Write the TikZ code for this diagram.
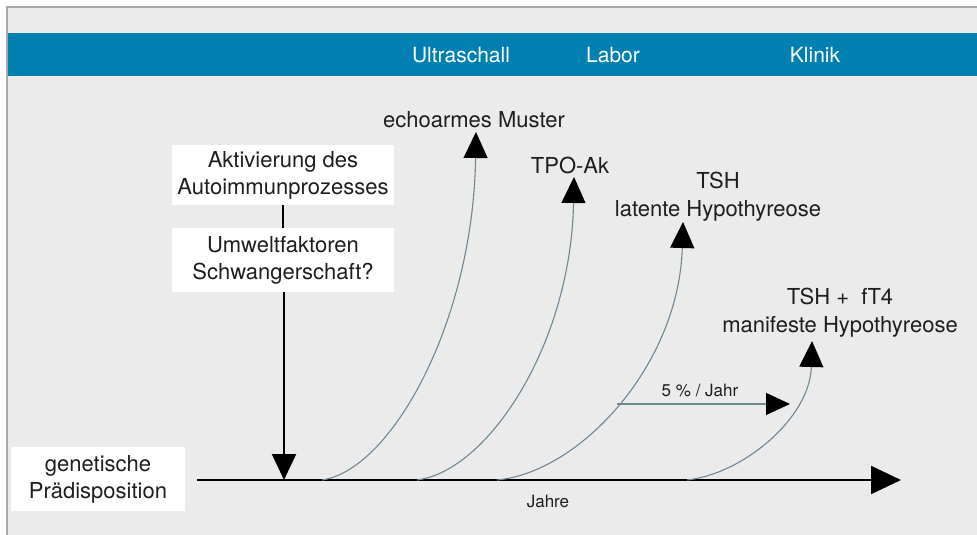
\documentclass[tikz,border=0pt]{standalone}
\usepackage{fontspec}
\setmainfont{TeX Gyre Heros}
\usetikzlibrary{arrows.meta}
\definecolor{bg}{HTML}{EBEBEB}
\definecolor{band}{HTML}{0080B0}
\definecolor{curvec}{HTML}{6F8794}
\definecolor{txt}{HTML}{1E1E1E}
\definecolor{framec}{HTML}{A8A8A8}
\tikzset{
  lbl/.style={font=\fontsize{22}{28}\selectfont, text=txt, align=center, inner sep=0pt},
  small/.style={font=\fontsize{17}{20}\selectfont, text=txt, inner sep=0pt},
  head/.style={font=\fontsize{21}{26}\selectfont, text=white, inner sep=0pt},
  wbox/.style={fill=white, align=center, text=txt, font=\fontsize{22}{27}\selectfont, inner sep=0pt},
  bigtip/.style={-{Triangle[length=26pt,width=24pt,color=black]}},
  axisline/.style={line width=2.2pt, draw=black},
  rise/.style={line width=1.1pt, draw=curvec, bigtip},
}
\begin{document}
\begin{tikzpicture}[x=1pt,y=-1pt]
\useasboundingbox (0,0) rectangle (977,535);
\fill[white] (0,0) rectangle (977,535);
\fill[bg] (7,7) rectangle (977,535);
\draw[framec, line width=1.2pt] (7,535) -- (7,7) -- (977,7);
\fill[band] (8,33) rectangle (977,76);
\node[head] (us) at (461,55) {Ultraschall};
\node[head] (lab) at (613,55) {Labor};
\node[head] (kl) at (815,55) {Klinik};

% boxes
\node[wbox, minimum width=222pt, minimum height=60pt] (akt) at (283,175) {Aktivierung des\\Autoimmunprozesses};
\node[wbox, minimum width=222pt, minimum height=64pt] (umw) at (283,260) {Umweltfaktoren\\Schwangerschaft?};
\node[wbox, minimum width=174pt, minimum height=64pt] (gen) at (98,479) {genetische\\Prädisposition};

% axis
\coordinate (axs) at (197,480);
\coordinate (axe) at (901,480);
\draw[axisline, -{Triangle[length=30pt,width=28pt]}] (axs) -- (axe);
\node[small] (jahre) at (548,501) {Jahre};

% vertical chain
\draw[axisline] (akt.south) -- (umw.north);
\coordinate (hit) at (284,480);
\draw[axisline, bigtip] (umw.south -| hit) -- (hit);

% curves
\coordinate (s1) at (322,480); \coordinate (e1) at (476,132);
\coordinate (s2) at (417,480); \coordinate (e2) at (574,177);
\coordinate (s3) at (497,480); \coordinate (e3) at (683,222);
\coordinate (s4) at (687,480); \coordinate (e4) at (812,341);
\draw[rise] (s1) .. controls (391,470) and (473,323) .. (e1);
\draw[rise] (s2) .. controls (488,471) and (571,344) .. (e2);
\draw[rise] (s3) .. controls (581,472) and (679,364) .. coordinate[pos=0.49] (m3) (e3);
\draw[rise] (s4) .. controls (743,474) and (810,418) .. (e4);

% 5% arrow
\coordinate (pend) at (790,403);
\draw[line width=1.1pt, draw=curvec, -{Triangle[length=24pt,width=22pt,color=black]}, shorten <=-1pt] (m3) -- (m3 -| pend);
\node[small] (pct) at (700,390) {5 \% / Jahr};

% labels
\node[lbl] (l1) at (474,120) {echoarmes Muster};
\node[lbl] (l2) at (570,165) {TPO-Ak};
\node[lbl] (l3) at (718,197) {TSH\\latente Hypothyreose};
\node[lbl] (l4) at (840,313) {TSH +\ \ fT4\\manifeste Hypothyreose};
\end{tikzpicture}
\end{document}
